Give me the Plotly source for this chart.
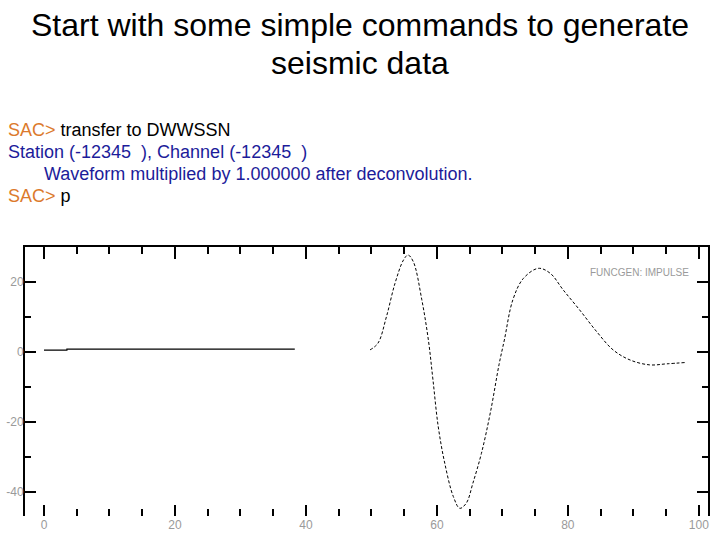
import plotly.graph_objects as go

# ---- data ----
flat_t = [0.0, 3.5, 3.5, 38.3]
flat_amp = [0.5, 0.5, 0.8, 0.8]

pulse_t = [49.8, 51.0, 52.3, 53.6, 54.9, 55.6, 56.4, 57.7, 58.7, 59.4, 60.2, 61.2,
           62.5, 63.5, 64.5, 65.5, 66.8, 68.2, 69.5, 70.3, 71.6, 73.2, 75.5, 77.3,
           79.3, 81.8, 84.4, 86.9, 89.5, 92.5, 95.1, 98.1]
pulse_amp = [0.6, 2.5, 10.1, 19.6, 26.3, 27.7, 25.8, 14.9, 3.4, -8.0, -21.3, -31.8,
             -41.3, -44.7, -43.2, -37.5, -29.0, -17.0, -3.5, 3.4, 14.9, 21.0, 23.9, 22.5,
             17.7, 12.0, 5.8, 0.6, -2.3, -3.7, -3.4, -3.0]

x_tick_vals = [0, 20, 40, 60, 80, 100]
x_tick_text = ["0", "20", "40", "60", "80", "100"]
y_tick_vals = [20, 0, -20, -40]
y_tick_text = ["20", "0", "-20", "-40"]

title_lines = ["Start with some simple commands to generate", "seismic data"]
plot_label = "FUNCGEN: IMPULSE"

ORANGE = "#DC7A2C"
NAVY = "#1C1C9A"

fig = go.Figure()
fig.add_trace(go.Scatter(x=flat_t, y=flat_amp, mode="lines",
                         line=dict(color="black", width=1.2), hoverinfo="skip"))
fig.add_trace(go.Scatter(x=pulse_t, y=pulse_amp, mode="lines", line_shape="spline",
                         line=dict(color="black", width=1, dash="3px,2px"), hoverinfo="skip"))
# invisible trace to activate the top axis
fig.add_trace(go.Scatter(x=[0], y=[0], xaxis="x2", mode="markers",
                         marker=dict(opacity=0), hoverinfo="skip"))

W, H = 720, 540
L, R, T, B = 25, 12, 247, 24
pw, ph = W - L - R, H - T - B

def px(x):
    return (x - L) / pw

def py(y):
    return (H - B - y) / ph

tickfont = dict(family="Liberation Sans Narrow, Liberation Sans, Arial", size=12, color="#9a9a9a")

fig.update_layout(
    width=W, height=H, margin=dict(l=L, r=R, t=T, b=B, autoexpand=False),
    paper_bgcolor="white", plot_bgcolor="white", showlegend=False,
    xaxis=dict(range=[-2.9, 101.4], showline=False, showgrid=False, zeroline=False,
               automargin=False,
               ticks="inside", ticklen=11, tickwidth=1.5, tickcolor="black",
               tickvals=x_tick_vals, ticktext=x_tick_text, tickfont=tickfont,
               minor=dict(dtick=5, tick0=0, ticks="inside", ticklen=7, tickwidth=1.5,
                          tickcolor="black", showgrid=False)),
    xaxis2=dict(overlaying="x", side="top", matches="x", showline=True, linecolor="black",
                linewidth=2, showgrid=False, zeroline=False, showticklabels=False,
                automargin=False,
                ticks="inside", ticklen=12, tickwidth=1.5, tickcolor="black",
                tickvals=x_tick_vals,
                minor=dict(dtick=5, tick0=0, ticks="inside", ticklen=7, tickwidth=1.5,
                           tickcolor="black", showgrid=False)),
    yaxis=dict(range=[-46.9, 30], showline=True, linecolor="black", linewidth=2,
               mirror="ticks", showgrid=False, zeroline=False, automargin=False,
               ticks="inside", ticklen=11, tickwidth=1.5, tickcolor="black",
               tickvals=y_tick_vals, ticktext=y_tick_text, tickfont=tickfont,
               ticklabelstandoff=-3,
               minor=dict(dtick=10, tick0=0, ticks="inside", ticklen=6, tickwidth=1.5,
                          tickcolor="black", showgrid=False)),
)

ann = []
title_font = dict(family="Liberation Sans, Arial", size=32, color="black")
ann.append(dict(text=title_lines[0], x=px(360), y=py(25), xref="paper", yref="paper",
                xanchor="center", yanchor="middle", showarrow=False, font=title_font))
ann.append(dict(text=title_lines[1], x=px(360), y=py(63), xref="paper", yref="paper",
                xanchor="center", yanchor="middle", showarrow=False, font=title_font))

cmd_font = dict(family="Liberation Sans, Arial", size=18, color=NAVY)
cmd_lines = [
    (6, 130, f'<span style="color:{ORANGE}">SAC&gt;</span><span style="color:black"> transfer to DWWSSN</span>'),
    (6, 152, "Station (-12345\u00a0\u00a0), Channel (-12345\u00a0\u00a0)"),
    (42, 174, "Waveform multiplied by 1.000000 after deconvolution."),
    (6, 196, f'<span style="color:{ORANGE}">SAC&gt;</span><span style="color:black"> p</span>'),
]
for x0, y0, t in cmd_lines:
    ann.append(dict(text=t, x=px(x0), y=py(y0), xref="paper", yref="paper",
                    xanchor="left", yanchor="middle", showarrow=False, font=cmd_font))

ann.append(dict(text=plot_label, x=px(691), y=py(272), xref="paper", yref="paper",
                xanchor="right", yanchor="middle", showarrow=False,
                font=dict(family="Liberation Sans Narrow, Liberation Sans, Arial", size=10,
                          color="#9a9a9a")))
fig.update_layout(annotations=ann)

# remove the browser's default 8px body margin so the 720x540 figure fills the window
fig.write_html("out.html", config={"displayModeBar": False},
               post_script="document.body.style.margin='0px';document.body.style.overflow='hidden';")
